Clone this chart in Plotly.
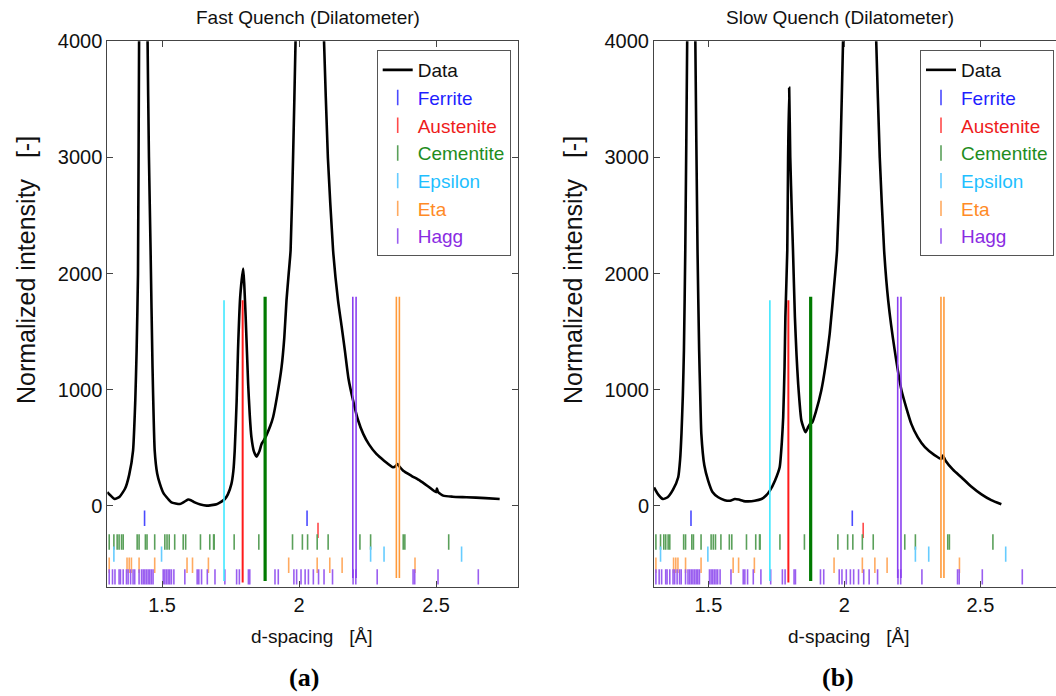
import plotly.graph_objects as go

W, H = 1056, 696

# ---- diffraction profiles: d-spacing [Å] and normalized intensity [-] ----
fast_d = [1.300, 1.310, 1.327, 1.345, 1.365, 1.380, 1.394, 1.402, 1.407, 1.412,
          1.416, 1.432, 1.447, 1.452, 1.458, 1.465, 1.473, 1.482, 1.492, 1.505,
          1.522, 1.534, 1.565, 1.580, 1.595, 1.605, 1.619, 1.640, 1.662, 1.699,
          1.715, 1.729, 1.740, 1.753, 1.760, 1.765, 1.772, 1.777, 1.785, 1.796,
          1.800, 1.805, 1.814, 1.820, 1.826, 1.835, 1.845, 1.855, 1.863, 1.870,
          1.881, 1.895, 1.905, 1.920, 1.936, 1.946, 1.954, 1.962, 1.969, 1.978,
          1.987, 2.000, 2.030, 2.060, 2.091, 2.105, 2.124, 2.142, 2.155, 2.167,
          2.180, 2.197, 2.215, 2.234, 2.255, 2.282, 2.310, 2.343, 2.353, 2.359,
          2.366, 2.380, 2.410, 2.441, 2.470, 2.500, 2.503, 2.507, 2.526, 2.560,
          2.611, 2.680, 2.732]
fast_i = [120, 95, 60, 80, 150, 270, 477, 900, 1339, 2000,
          4000, 9000, 4000, 3000, 2200, 1200, 477, 280, 190, 110,
          60, 31, 17, 35, 55, 50, 31, 12, 3, 15,
          35, 60, 100, 190, 300, 477, 900, 1339, 1800, 2043,
          1900, 1626, 1052, 780, 592, 470, 425, 470, 534, 560,
          610, 690, 764, 950, 1195, 1450, 1770, 2000, 2201, 3000,
          4000, 6000, 8000, 6500, 4000, 3000, 2201, 1770, 1550, 1339,
          1100, 908, 740, 621, 530, 448, 390, 333, 345, 362,
          340, 304, 260, 218, 170, 118, 150, 120, 89, 80,
          75, 68, 60]

slow_d = [1.300, 1.315, 1.333, 1.350, 1.370, 1.389, 1.396, 1.401, 1.406, 1.410,
          1.415, 1.422, 1.437, 1.452, 1.460, 1.466, 1.470, 1.474, 1.485, 1.499,
          1.515, 1.536, 1.560, 1.580, 1.597, 1.612, 1.630, 1.646, 1.670, 1.695,
          1.712, 1.726, 1.745, 1.762, 1.770, 1.775, 1.780, 1.783, 1.790, 1.793,
          1.797, 1.801, 1.807, 1.811, 1.818, 1.824, 1.830, 1.842, 1.857, 1.867,
          1.875, 1.882, 1.895, 1.915, 1.930, 1.946, 1.965, 1.973, 1.985, 1.995,
          2.030, 2.080, 2.117, 2.130, 2.146, 2.161, 2.185, 2.210, 2.246, 2.270,
          2.296, 2.330, 2.357, 2.362, 2.372, 2.400, 2.430, 2.465, 2.504, 2.540,
          2.577]
slow_i = [160, 100, 60, 75, 140, 247, 400, 621, 950, 1339,
          2201, 4000, 9000, 4000, 2201, 1339, 950, 621, 350, 218,
          120, 75, 50, 45, 60, 55, 42, 40, 45, 60,
          90, 132, 220, 333, 550, 764, 1200, 1626, 2201, 3000,
          3600, 3000, 2500, 2201, 1626, 1300, 1052, 735, 635, 680,
          710, 720, 810, 994, 1200, 1483, 1971, 2201, 3000, 4000,
          8000, 7000, 4000, 3000, 2201, 1770, 1339, 994, 707, 590,
          506, 440, 405, 434, 390, 310, 247, 170, 100, 50,
          15]

# ---- reference reflection positions [Å] for each phase ----
phase_names = ["Ferrite", "Austenite", "Cementite", "Epsilon", "Eta", "Hagg"]
ferrite_d = [1.436, 2.029]
austenite_d = [2.069]
cementite_d = [1.307, 1.324, 1.336, 1.343, 1.352, 1.358, 1.409, 1.416, 1.439, 1.445,
               1.473, 1.510, 1.518, 1.526, 1.546, 1.577, 1.586, 1.640, 1.674, 1.688,
               1.690, 1.763, 1.853, 1.976, 2.012, 2.031, 2.066, 2.106, 2.222, 2.261,
               2.380, 2.386, 2.546]
epsilon_d = [1.324, 1.498, 2.261, 2.310, 2.593]
eta_d = [1.307, 1.372, 1.380, 1.388, 1.416, 1.473, 1.591, 1.611, 1.669, 1.962,
         2.066, 2.112, 2.157, 2.423]
hagg_d = [1.307, 1.319, 1.328, 1.343, 1.348, 1.358, 1.370, 1.376, 1.385, 1.394,
          1.400, 1.416, 1.425, 1.431, 1.437, 1.443, 1.449, 1.455, 1.461, 1.467,
          1.504, 1.510, 1.516, 1.522, 1.528, 1.534, 1.543, 1.583, 1.628, 1.634,
          1.644, 1.665, 1.693, 1.729, 1.772, 1.782, 1.815, 1.820, 1.912, 1.924,
          1.981, 1.991, 2.007, 2.022, 2.034, 2.052, 2.071, 2.091, 2.122, 2.197,
          2.207, 2.285, 2.416, 2.422, 2.507, 2.654]
phase_d = [ferrite_d, austenite_d, cementite_d, epsilon_d, eta_d, hagg_d]

# strongest reflections, drawn as long markers through the profile
strong_d = {
    "Epsilon": [1.726],
    "Austenite": [1.794],
    "Cementite": [1.876],
    "Hagg": [2.196, 2.208],
    "Eta": [2.355, 2.366],
}
strong_top = {"Epsilon": 1770, "Austenite": 1770, "Cementite": 1800, "Hagg": 1800, "Eta": 1800}
strong_bottom = {"Epsilon": -645, "Austenite": -658, "Cementite": -645, "Hagg": -620, "Eta": -620}

# ---- styling ----
row_level = {"Ferrite": -105, "Austenite": -210, "Cementite": -310,
             "Epsilon": -414, "Eta": -510, "Hagg": -610}
tick_color = {"Ferrite": "#4a4aff", "Austenite": "#ff4a4a", "Cementite": "#5aa05a",
              "Epsilon": "#66ccff", "Eta": "#ffaa60", "Hagg": "#9a5ef0"}
text_color = {"Ferrite": "#1f1fff", "Austenite": "#ee1c1c", "Cementite": "#1e8c1e",
              "Epsilon": "#1fbfff", "Eta": "#ff8a26", "Hagg": "#8a2be2"}
strong_color = {"Epsilon": "#40e8ff", "Austenite": "#ff1a1a", "Cementite": "#007a00",
                "Hagg": "#8a3ff0", "Eta": "#ff9a3a"}
strong_width = {"Epsilon": 1.6, "Austenite": 2.0, "Cementite": 3.2, "Hagg": 1.6, "Eta": 1.6}

FONT = "Liberation Sans, Arial, sans-serif"
TICK_FS = 20
TEXT_FS = 19
LEGEND_FS = 19
YLABEL_FS = 25
FRAME = "#444444"


def fx(p):
    return p / W


def fy(p):
    return 1 - p / H


fig = go.Figure()

panels = [
    dict(d=fast_d, i=fast_i, xa="x", ya="y", legend="legend"),
    dict(d=slow_d, i=slow_i, xa="x2", ya="y2", legend="legend2"),
]

for p in panels:
    fig.add_trace(go.Scatter(
        x=p["d"], y=p["i"], mode="lines", name="Data",
        line=dict(color="black", width=2.6, shape="spline", smoothing=0.5),
        xaxis=p["xa"], yaxis=p["ya"], legend=p["legend"], legendrank=1,
        hoverinfo="skip"))
    for k, (name, ds) in enumerate(zip(phase_names, phase_d)):
        fig.add_trace(go.Scatter(
            x=ds, y=[row_level[name]] * len(ds), mode="markers",
            name=f'<span style="color:{text_color[name]}">{name}</span>',
            marker=dict(symbol="line-ns", size=11,
                        line=dict(width=1.6, color=tick_color[name])),
            xaxis=p["xa"], yaxis=p["ya"], legend=p["legend"], legendrank=2 + k,
            hoverinfo="skip"))
    for name, ds in strong_d.items():
        xs, ys = [], []
        for d in ds:
            xs += [d, d, None]
            ys += [strong_bottom[name], strong_top[name], None]
        fig.add_trace(go.Scatter(
            x=xs, y=ys, mode="lines", showlegend=False,
            line=dict(color=strong_color[name], width=strong_width[name]),
            xaxis=p["xa"], yaxis=p["ya"], hoverinfo="skip"))

axis_common = dict(showline=True, linecolor=FRAME, linewidth=1, ticks="inside",
                   ticklen=6, tickcolor=FRAME, showgrid=False, zeroline=False,
                   automargin=False,
                   tickfont=dict(family=FONT, size=TICK_FS, color="#111111"))

y_dom = [fy(587.3), fy(41.3)]
legend_style = dict(yanchor="top", y=fy(50), bgcolor="white", bordercolor="#555555",
                    borderwidth=1, font=dict(family=FONT, size=LEGEND_FS, color="#111111"),
                    itemwidth=30, tracegroupgap=0)
fig.update_layout(
    width=W, height=H,
    margin=dict(l=0, r=0, t=0, b=0, autoexpand=False),
    paper_bgcolor="white", plot_bgcolor="white",
    font=dict(family=FONT, size=TICK_FS, color="#111111"),
    xaxis=dict(domain=[fx(107.3), fx(518.3)], range=[1.30, 2.80],
               tickvals=[1.5, 2, 2.5], ticktext=["1.5", "2", "2.5"],
               mirror="ticks", anchor="y", **axis_common),
    yaxis=dict(domain=y_dom, range=[-700, 4000],
               tickvals=[0, 1000, 2000, 3000, 4000], mirror="ticks",
               anchor="x", **axis_common),
    xaxis2=dict(domain=[fx(654), 1.0], range=[1.30, 1.30 + 402 / 272.0],
                tickvals=[1.5, 2, 2.5], ticktext=["1.5", "2", "2.5"],
                mirror="ticks", anchor="y2", **axis_common),
    yaxis2=dict(domain=y_dom, range=[-700, 4000],
                tickvals=[0, 1000, 2000, 3000, 4000], mirror=False,
                anchor="x2", **axis_common),
    legend=dict(x=fx(510.7), xanchor="right", **legend_style),
    legend2=dict(x=fx(1054), xanchor="right", **legend_style),
    showlegend=True,
)

NB = "\u00a0"
texts = [
    ("Fast Quench (Dilatometer)", 308, 17),
    ("Slow Quench (Dilatometer)", 840, 17),
    (f"d-spacing{NB*3}[Å]", 311, 636),
    (f"d-spacing{NB*3}[Å]", 848, 636),
]
for txt, xp, yp in texts:
    fig.add_annotation(text=txt, x=fx(xp), y=fy(yp), xref="paper", yref="paper",
                       xanchor="center", yanchor="middle", showarrow=False,
                       font=dict(family=FONT, size=TEXT_FS, color="#111111"))

for xpos in (26, 573):
    fig.add_annotation(text=f"Normalized intensity{NB*3}[-]", x=fx(xpos), y=fy(270),
                       xref="paper", yref="paper", textangle=-90,
                       xanchor="center", yanchor="middle", showarrow=False,
                       font=dict(family=FONT, size=YLABEL_FS, color="#111111"))

for label, xpos in (("(a)", 304), ("(b)", 838)):
    fig.add_annotation(text=f"<b>{label}</b>", x=fx(xpos), y=fy(677),
                       xref="paper", yref="paper", xanchor="center", yanchor="middle",
                       showarrow=False,
                       font=dict(family="Liberation Serif, Times New Roman, serif",
                                 size=26, color="black"))

fig.write_html("out.html")
